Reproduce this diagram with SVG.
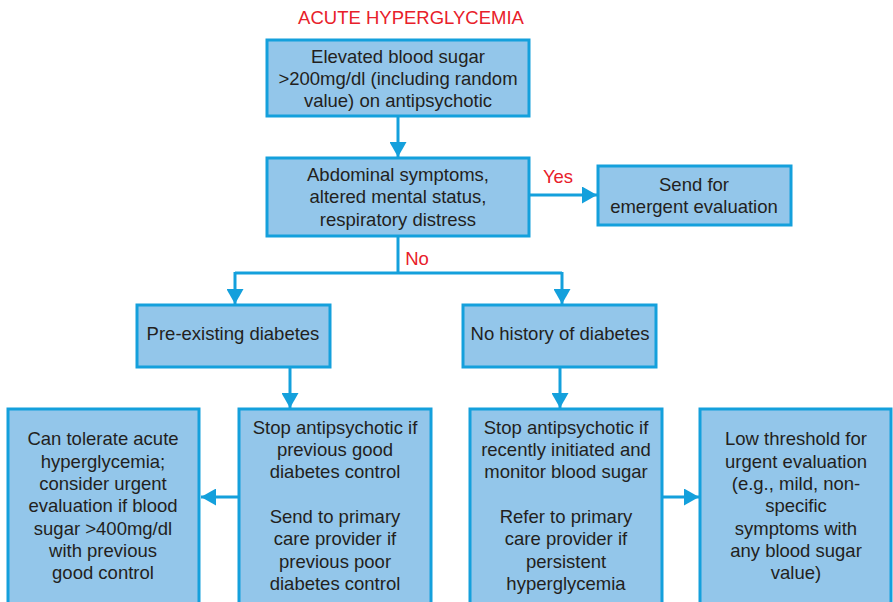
<svg xmlns="http://www.w3.org/2000/svg" width="893" height="602" viewBox="0 0 893 602">
  <defs>
    <style>
      .box { fill: #93c6ea; stroke: #14a0dc; stroke-width: 3; }
      .t { font-family: "Liberation Sans", Arial, sans-serif; font-size: 18.5px; fill: #231f20; text-anchor: middle; }
      .red { font-family: "Liberation Sans", Arial, sans-serif; font-size: 18.5px; fill: #e8202a; text-anchor: middle; }
      .line { fill: none; stroke: #14a0dc; stroke-width: 3; }
    </style>
    <marker id="arrow" viewBox="0 0 15 17" refX="15" refY="8.5" markerWidth="15" markerHeight="17" markerUnits="userSpaceOnUse" orient="auto">
      <path d="M0,0 L15,8.5 L0,17 Z" fill="#14a0dc"/>
    </marker>
  </defs>

  <rect width="893" height="602" fill="#ffffff"/>

  <text class="red" x="411" y="24">ACUTE HYPERGLYCEMIA</text>

  <g id="connectors">
    <path class="line" d="M398,117 L398,157" marker-end="url(#arrow)"/>
    <path class="line" d="M530,195 L597,195" marker-end="url(#arrow)"/>
    <path class="line" d="M398,237 L398,273"/>
    <path class="line" d="M235,273 L562,273"/>
    <path class="line" d="M235,272 L235,304" marker-end="url(#arrow)"/>
    <path class="line" d="M562,272 L562,304" marker-end="url(#arrow)"/>
    <path class="line" d="M290,368 L290,408" marker-end="url(#arrow)"/>
    <path class="line" d="M560,368 L560,408" marker-end="url(#arrow)"/>
    <path class="line" d="M238,497 L201,497" marker-end="url(#arrow)"/>
    <path class="line" d="M663,497 L699,497" marker-end="url(#arrow)"/>
    <text class="red" x="558" y="183">Yes</text>
    <text class="red" x="417" y="265">No</text>
  </g>

  <g id="elevated">
    <rect class="box" x="267" y="40" width="262" height="76"/>
    <text class="t" x="398" y="63">Elevated blood sugar</text>
    <text class="t" x="398" y="85">&gt;200mg/dl (including random</text>
    <text class="t" x="398" y="107">value) on antipsychotic</text>
  </g>

  <g id="symptoms">
    <rect class="box" x="267" y="158" width="262" height="78"/>
    <text class="t" x="398" y="181">Abdominal symptoms,</text>
    <text class="t" x="398" y="203">altered mental status,</text>
    <text class="t" x="398" y="226">respiratory distress</text>
  </g>

  <g id="emergent">
    <rect class="box" x="598" y="166" width="193" height="59"/>
    <text class="t" x="694" y="191">Send for</text>
    <text class="t" x="694" y="213">emergent evaluation</text>
  </g>

  <g id="preexisting">
    <rect class="box" x="137" y="305" width="193" height="62"/>
    <text class="t" x="233" y="340">Pre-existing diabetes</text>
  </g>

  <g id="nohistory">
    <rect class="box" x="463" y="305" width="193" height="62"/>
    <text class="t" x="560" y="340">No history of diabetes</text>
  </g>

  <g id="tolerate">
    <rect class="box" x="8" y="409" width="191" height="205"/>
    <text class="t" x="103" y="445">Can tolerate acute</text>
    <text class="t" x="103" y="468">hyperglycemia;</text>
    <text class="t" x="103" y="490">consider urgent</text>
    <text class="t" x="103" y="512">evaluation if blood</text>
    <text class="t" x="103" y="535">sugar &gt;400mg/dl</text>
    <text class="t" x="103" y="557">with previous</text>
    <text class="t" x="103" y="579">good control</text>
  </g>

  <g id="stop-known">
    <rect class="box" x="239" y="409" width="192" height="205"/>
    <text class="t" x="335" y="434">Stop antipsychotic if</text>
    <text class="t" x="335" y="456">previous good</text>
    <text class="t" x="335" y="478">diabetes control</text>
    <text class="t" x="335" y="523">Send to primary</text>
    <text class="t" x="335" y="545">care provider if</text>
    <text class="t" x="335" y="568">previous poor</text>
    <text class="t" x="335" y="590">diabetes control</text>
  </g>

  <g id="stop-new">
    <rect class="box" x="470" y="409" width="192" height="205"/>
    <text class="t" x="566" y="434">Stop antipsychotic if</text>
    <text class="t" x="566" y="456">recently initiated and</text>
    <text class="t" x="566" y="478">monitor blood sugar</text>
    <text class="t" x="566" y="523">Refer to primary</text>
    <text class="t" x="566" y="545">care provider if</text>
    <text class="t" x="566" y="568">persistent</text>
    <text class="t" x="566" y="590">hyperglycemia</text>
  </g>

  <g id="threshold">
    <rect class="box" x="700" y="409" width="191" height="205"/>
    <text class="t" x="796" y="445">Low threshold for</text>
    <text class="t" x="796" y="468">urgent evaluation</text>
    <text class="t" x="796" y="490">(e.g., mild, non-</text>
    <text class="t" x="796" y="512">specific</text>
    <text class="t" x="796" y="535">symptoms with</text>
    <text class="t" x="796" y="557">any blood sugar</text>
    <text class="t" x="796" y="579">value)</text>
  </g>
</svg>
